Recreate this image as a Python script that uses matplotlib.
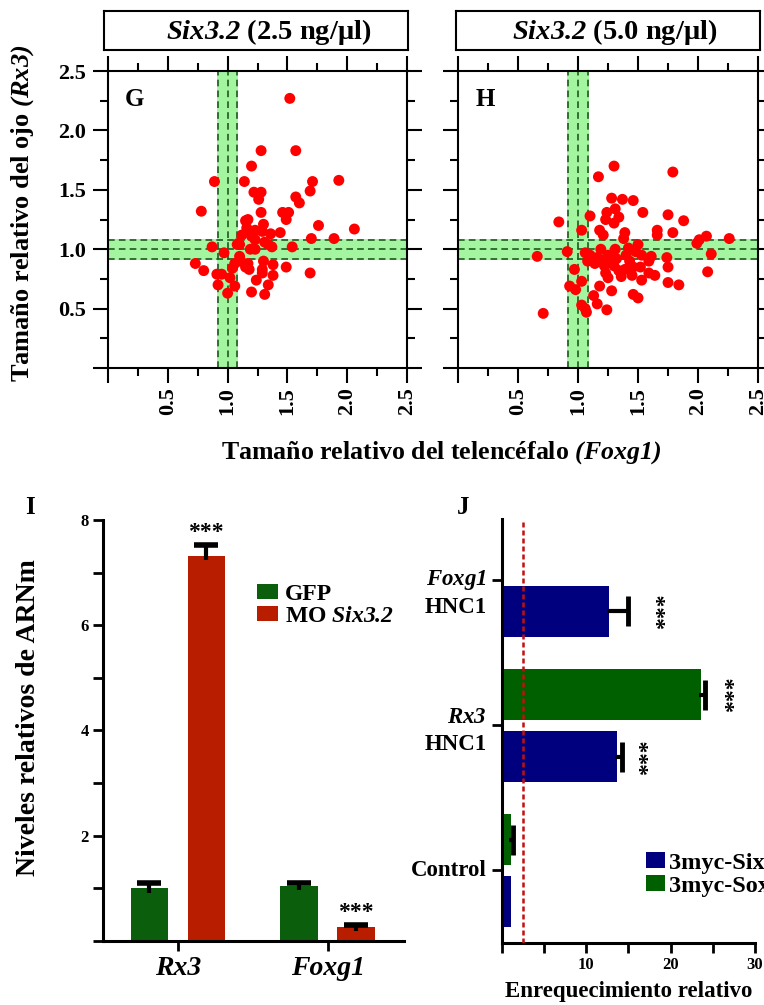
import numpy as np
import matplotlib
matplotlib.use('Agg')
import matplotlib.pyplot as plt
from matplotlib.ticker import MultipleLocator, FuncFormatter

plt.rcParams['font.family'] = ['Liberation Serif', 'DejaVu Serif']
plt.rcParams['font.weight'] = 'bold'
plt.rcParams['mathtext.fontset'] = 'custom'
# non-letters inside \mathit fall back to rm, so rm is the italic face too
plt.rcParams['mathtext.rm'] = 'Liberation Serif:italic'
plt.rcParams['mathtext.it'] = 'Liberation Serif:italic'
plt.rcParams['mathtext.bf'] = 'Liberation Serif:bold'
plt.rcParams['mathtext.bfit'] = 'Liberation Serif:italic:bold'

# panel G: Six3.2 2.5 ng/ul  (telencephalon size, eye size)
g_x = [1.52, 1.28, 1.57, 1.20, 0.89, 1.14, 1.71, 1.93, 1.69, 1.22,
       1.28, 1.26, 1.57, 1.60, 0.78, 1.28, 1.46, 1.51, 1.49, 1.15,
       1.17, 1.30, 1.76, 2.06, 1.44, 1.16, 1.23, 1.36, 1.12, 1.23,
       1.08, 1.10, 1.31, 1.70, 1.89, 0.87, 0.97, 1.19, 1.23, 1.37,
       1.54, 1.34, 1.10, 0.73, 0.80, 1.11, 1.17, 1.15, 1.18, 1.30,
       1.38, 1.29, 1.49, 1.04, 1.29, 1.38, 1.69, 0.91, 0.95, 1.02,
       0.92, 1.06, 1.00, 1.24, 1.34, 1.20, 1.31, 1.06, 1.09, 1.20,
       1.29]
g_y = [2.27, 1.83, 1.83, 1.70, 1.57, 1.57, 1.57, 1.58, 1.49, 1.48,
       1.48, 1.42, 1.44, 1.39, 1.32, 1.31, 1.31, 1.31, 1.25, 1.24,
       1.25, 1.21, 1.20, 1.17, 1.14, 1.18, 1.16, 1.13, 1.12, 1.08,
       1.04, 1.04, 1.06, 1.09, 1.09, 1.02, 0.97, 1.00, 1.00, 1.02,
       1.02, 1.04, 0.94, 0.88, 0.82, 0.90, 0.88, 0.85, 0.83, 0.90,
       0.87, 0.83, 0.85, 0.84, 0.80, 0.78, 0.80, 0.79, 0.79, 0.76,
       0.70, 0.69, 0.63, 0.74, 0.70, 0.64, 0.62, 0.88, 1.05, 1.11,
       1.15]

# panel H: Six3.2 5.0 ng/ul
h_x = [1.30, 1.17, 1.79, 1.28, 1.37, 1.46, 1.31, 1.24, 1.34, 1.23,
       1.30, 1.54, 1.75, 1.88, 0.84, 1.10, 1.03, 1.18, 1.21, 1.39,
       1.38, 1.66, 1.66, 1.79, 1.99, 2.01, 2.07, 2.26, 2.11, 2.08,
       0.66, 0.91, 1.06, 1.19, 1.31, 1.42, 1.50, 1.48, 1.53, 1.61,
       1.74, 1.08, 1.14, 1.21, 1.28, 1.32, 1.34, 1.43, 1.46, 1.52,
       1.59, 1.75, 1.59, 1.64, 1.53, 0.97, 1.23, 1.25, 1.18, 0.93,
       0.98, 1.03, 1.75, 1.84, 1.28, 1.13, 1.46, 1.50, 1.03, 1.07,
       1.16, 1.24, 1.06, 1.39, 1.45, 1.36, 0.71, 1.10, 1.16, 1.25,
       1.40, 1.22, 1.30]
h_y = [1.70, 1.61, 1.65, 1.43, 1.42, 1.41, 1.34, 1.31, 1.27, 1.25,
       1.22, 1.31, 1.29, 1.24, 1.23, 1.28, 1.16, 1.16, 1.12, 1.14,
       1.09, 1.16, 1.12, 1.14, 1.05, 1.08, 1.11, 1.09, 0.96, 0.81,
       0.94, 0.98, 0.97, 1.00, 1.00, 1.01, 1.04, 0.98, 0.95, 0.94,
       0.93, 0.90, 0.88, 0.91, 0.90, 0.92, 0.82, 0.90, 0.85, 0.85,
       0.90, 0.85, 0.80, 0.78, 0.74, 0.83, 0.80, 0.76, 0.69, 0.69,
       0.66, 0.73, 0.72, 0.70, 0.65, 0.61, 0.62, 0.59, 0.53, 0.47,
       0.54, 0.49, 0.50, 0.83, 0.78, 0.77, 0.46, 0.95, 0.93, 0.95,
       0.95, 0.86, 0.86]

band_low, band_mid, band_high = 0.92, 1.0, 1.08

# panel I: qPCR
i_genes = ['Rx3', 'Foxg1']
i_gfp = [1.00, 1.04]
i_gfp_err = [0.10, 0.07]
i_mo = [7.32, 0.27]
i_mo_err = [0.20, 0.04]

# panel J: ChIP enrichment
j_groups = ['Control', 'Rx3', 'Foxg1']
j_six = [1.1, 13.7, 12.7]
j_six_err = [0.0, 0.55, 2.2]
j_sox = [1.1, 23.6, np.nan]
j_sox_err = [0.2, 0.5, np.nan]
j_threshold = 2.5

fig = plt.figure(figsize=(7.64, 10.05), dpi=100)


def upper_err(ax, x, v, e, horizontal=False, cap=16, lw=2.5, mew=4):
    # one-sided error bar: stem from the bar end plus a single cap
    x, v, e = np.asarray(x, float), np.asarray(v, float), np.asarray(e, float)
    ok = np.isfinite(v) & np.isfinite(e) & (e > 0)
    if horizontal:
        ax.hlines(x[ok], v[ok] - 0.25, v[ok] + e[ok], color='black', lw=lw, zorder=3)
        ax.plot(v[ok] + e[ok], x[ok], ls='none', marker='|', ms=cap, mew=mew,
                color='black', zorder=3)
    else:
        ax.vlines(x[ok], v[ok] - 0.08, v[ok] + e[ok], color='black', lw=lw, zorder=3)
        ax.plot(x[ok], v[ok] + e[ok], ls='none', marker='_', ms=cap, mew=mew,
                color='black', zorder=3)


# ---- scatter panels G, H ----
def scatter_panel(rect, box_rect, xs, ys, title, title_x, letter, show_ylabels):
    tb = fig.add_axes(box_rect)
    tb.set_xticks([])
    tb.set_yticks([])
    for s in tb.spines.values():
        s.set_linewidth(1.5)
    tb.text(title_x, 0.47, title, ha='center', va='center', fontsize=20.5,
            transform=tb.transAxes)

    ax = fig.add_axes(rect)
    ax.set_xlim(0, 2.5)
    ax.set_ylim(0, 2.5)
    ax.axvspan(band_low - 0.01, band_high + 0.01, color='#a4f5a0', lw=0, zorder=1)
    ax.axhspan(band_low - 0.01, band_high + 0.01, color='#a4f5a0', lw=0, zorder=1)
    for v in (band_low, band_mid, band_high):
        ax.axvline(v, color='#1f5a1f', lw=1.2, ls=(0, (4, 2.5)), zorder=2)
        ax.axhline(v, color='#1f5a1f', lw=1.2, ls=(0, (4, 2.5)), zorder=2)
    ax.scatter(xs, ys, s=62, color='#ff0000', edgecolors='none', zorder=3)

    fmt = FuncFormatter(lambda v, p: '' if abs(v) < 1e-9 else '%.1f' % v)
    for axis in (ax.xaxis, ax.yaxis):
        axis.set_major_locator(MultipleLocator(0.5))
        axis.set_minor_locator(MultipleLocator(0.25))
        axis.set_major_formatter(fmt)
    ax.tick_params(which='both', direction='out', top=True, right=True,
                   width=1.5, labelsize=16)
    ax.tick_params(which='major', length=11)
    ax.tick_params(which='minor', length=6)
    ax.tick_params(axis='x', labelrotation=90, pad=3)
    ax.tick_params(axis='y', pad=5, labelleft=show_ylabels)
    for s in ax.spines.values():
        s.set_linewidth(1.5)
    ax.text(0.09, 0.905, letter, ha='center', va='center', fontsize=18,
            transform=ax.transAxes)
    return ax


scatter_panel([0.1414, 0.6338, 0.3913, 0.2955], [0.1361, 0.9502, 0.3979, 0.0388],
              g_x, g_y, r'$\mathbfit{Six3.2}$ (2.5 ng/μl)', 0.54, 'G', True)
scatter_panel([0.5995, 0.6338, 0.3927, 0.2955], [0.5969, 0.9502, 0.3979, 0.0388],
              h_x, h_y, r'$\mathbfit{Six3.2}$ (5.0 ng/μl)', 0.523, 'H', False)

fig.text(0.029, 0.788, r'Tamaño relativo del ojo $\mathit{(Rx3)}$', rotation=90,
         ha='center', va='center', fontsize=19)
fig.text(0.577, 0.55, r'Tamaño relativo del telencéfalo $\mathit{(Foxg1)}$',
         ha='center', va='center', fontsize=18.6)

# ---- panel I ----
ax_i = fig.add_axes([0.1348, 0.0637, 0.394, 0.4189])
pos = np.arange(len(i_genes))
w = 0.25
ax_i.bar(pos - 0.19, i_gfp, w, color='#0b5e0b', label='GFP', zorder=2)
ax_i.bar(pos + 0.19, i_mo, w, color='#b81d00', label=r'MO $\mathbfit{Six3.2}$', zorder=2)
upper_err(ax_i, pos - 0.19, i_gfp, i_gfp_err, cap=17, lw=3, mew=4)
upper_err(ax_i, pos + 0.19, i_mo, i_mo_err, cap=17, lw=3, mew=4)
for p, v, e in zip(pos + 0.19, i_mo, i_mo_err):
    ax_i.text(p, v + e + 0.24, '***', ha='center', va='center', fontsize=17)
ax_i.set_xlim(-0.5, 1.51)
ax_i.set_ylim(0, 8)
ax_i.set_xticks(pos)
ax_i.set_xticklabels(i_genes, fontstyle='italic', fontsize=20)
ax_i.set_yticks(range(0, 9))
ax_i.set_yticklabels(['' if t % 2 or t == 0 else str(t) for t in range(0, 9)])
ax_i.tick_params(axis='y', length=7, width=2, labelsize=12, pad=3)
ax_i.tick_params(axis='x', length=7, width=2, pad=4)
for s in ('top', 'right'):
    ax_i.spines[s].set_visible(False)
for s in ('left', 'bottom'):
    ax_i.spines[s].set_linewidth(2.2)
ax_i.set_ylabel('Niveles relativos de ARNm', fontsize=20, fontweight='bold')
ax_i.yaxis.set_label_coords(-0.205, 0.53)
ax_i.legend(loc='upper left', bbox_to_anchor=(0.337, 0.419), bbox_transform=fig.transFigure,
            frameon=False, fontsize=17, handlelength=0.85, handleheight=0.62,
            handletextpad=0.3, labelspacing=0.05, borderpad=0, borderaxespad=0)
fig.text(0.039, 0.4955, 'I', ha='center', va='center', fontsize=18)

# ---- panel J ----
ax_j = fig.add_axes([0.6567, 0.0617, 0.3316, 0.4219])
ypos = np.arange(len(j_groups))
h = 0.35
ax_j.barh(ypos - 0.217, j_six, h, color='#00007f', label='3myc-Six3.2', zorder=2)
ax_j.barh(ypos + 0.21, j_sox, h, color='#006000', label='3myc-Sox2', zorder=2)
upper_err(ax_j, ypos - 0.217, j_six, j_six_err, horizontal=True, cap=21, lw=3, mew=3.5)
upper_err(ax_j, ypos + 0.21, j_sox, j_sox_err, horizontal=True, cap=21, lw=3, mew=3.5)
ax_j.axvline(j_threshold, color='#c01010', lw=1.8, ls=(0, (2, 1.2)), zorder=4)
star_gap = [None, 3.1, 4.5]
for k in (1, 2):
    ax_j.text(j_six[k] + j_six_err[k] + star_gap[k], ypos[k] - 0.217, '***',
              rotation=90, ha='center', va='center', fontsize=17)
ax_j.text(j_sox[1] + j_sox_err[1] + 3.5, ypos[1] + 0.21, '***',
          rotation=90, ha='center', va='center', fontsize=17)
ax_j.set_xlim(0, 30)
ax_j.set_ylim(-0.5, 2.42)
ax_j.set_xticks(range(0, 31, 5))
ax_j.set_xticklabels(['' if t % 10 or t == 0 else str(t) for t in range(0, 31, 5)])
ax_j.tick_params(axis='x', length=7, width=2, labelsize=12, pad=3)
ax_j.set_yticks(ypos)
ax_j.set_yticklabels([])
ax_j.tick_params(axis='y', length=7, width=2)
for s in ('top', 'right'):
    ax_j.spines[s].set_visible(False)
for s in ('left', 'bottom'):
    ax_j.spines[s].set_linewidth(2.2)
ax_j.set_xlabel('Enrequecimiento relativo', fontsize=16.5, fontweight='bold', labelpad=6)
lab_tr = ax_j.get_yaxis_transform()
ax_j.text(-0.058, ypos[0], 'Control', ha='right', va='center', fontsize=16.5,
          transform=lab_tr)
name_dy = [None, 0.05, 0.0]
hnc_dy = [None, -0.13, -0.19]
for k in (1, 2):
    ax_j.text(-0.058, ypos[k] + name_dy[k], r'$\mathbfit{%s}$' % j_groups[k], ha='right',
              va='center', fontsize=16.5, transform=lab_tr)
    ax_j.text(-0.058, ypos[k] + hnc_dy[k], 'HNC1', ha='right', va='center', fontsize=16.5,
              transform=lab_tr)
ax_j.legend(loc='upper left', bbox_to_anchor=(0.846, 0.152), bbox_transform=fig.transFigure,
            frameon=False, fontsize=17.5, handlelength=0.75, handleheight=0.65,
            handletextpad=0.2, labelspacing=0.05, borderpad=0, borderaxespad=0)
fig.text(0.606, 0.4955, 'J', ha='center', va='center', fontsize=18)

fig.savefig('out.png', dpi=100)
